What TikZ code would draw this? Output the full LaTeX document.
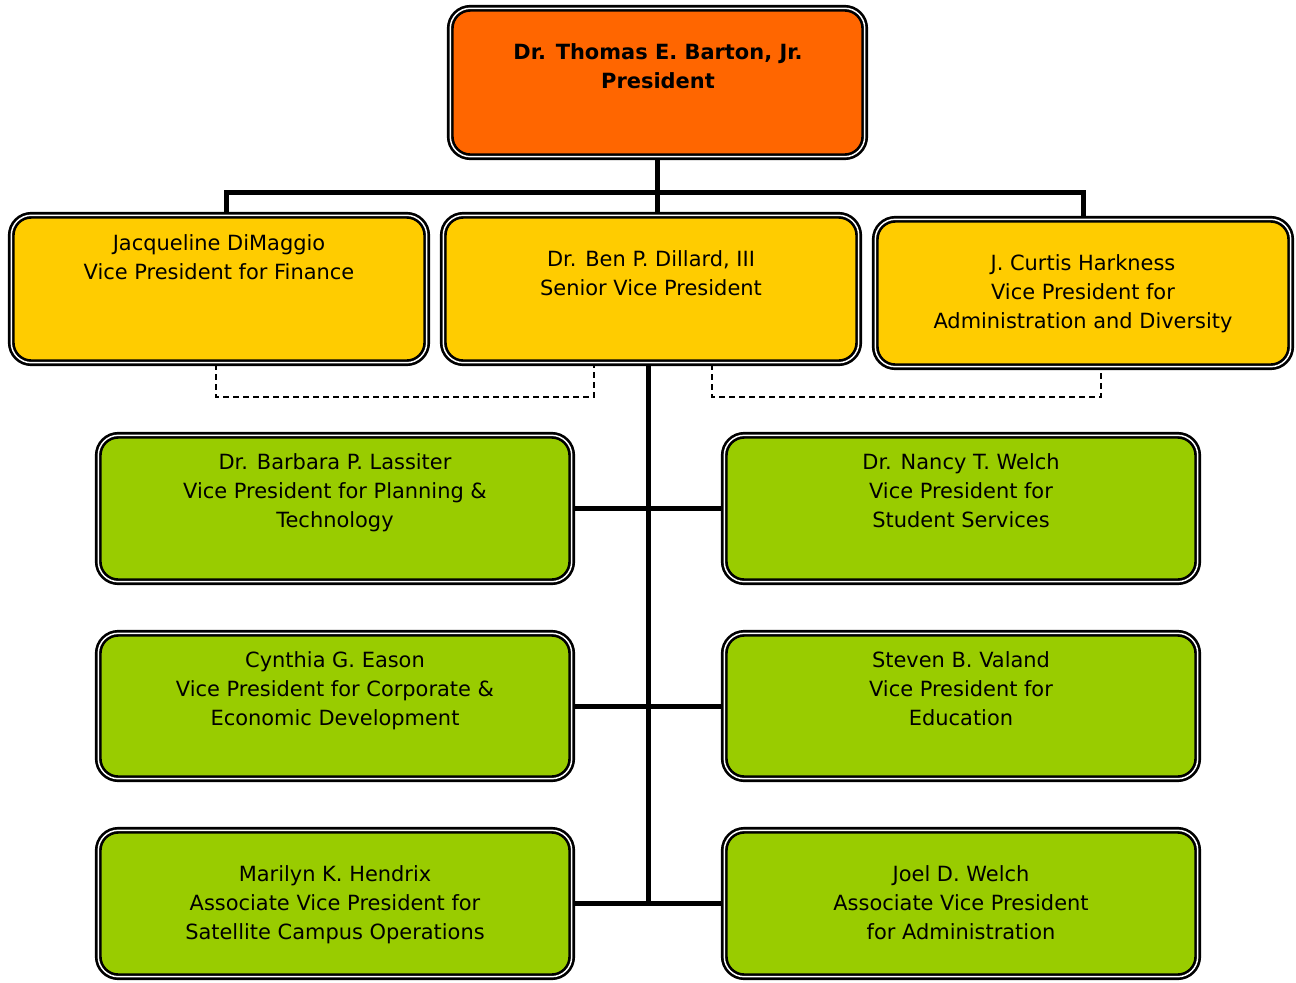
\documentclass[tikz,border=0pt]{standalone}
\usepackage{fontspec}
\setmainfont{DejaVu Sans}
\usetikzlibrary{fit,backgrounds}
\definecolor{presc}{HTML}{FF6600}
\definecolor{vpc}{HTML}{FFCC00}
\definecolor{grc}{HTML}{99CC00}
\newcommand\mylines[1]{\begin{tabular}[t]{@{}c@{}}#1\end{tabular}}
\begin{document}
\begin{tikzpicture}[x=0.75pt,y=-0.75pt,
  box/.style={draw=black, line width=2pt, double=white, double distance=1.1pt,
    rounded corners=15pt, inner sep=0pt},
  txt/.style={anchor=base, inner sep=0pt, font=\fontsize{15.7}{21.75}\selectfont},
  btxt/.style={anchor=base, inner sep=0pt, font=\fontsize{15.7}{21.75}\selectfont\bfseries},
  conn/.style={draw=black, line width=3.75pt, line join=miter},
  dsh/.style={draw=black, line width=1.1pt, dash pattern=on 4.5pt off 3pt}]
\useasboundingbox (0,0) rectangle (1296,982);

% boxes
\node[box, fill=presc, fit={(450.3,8.3)(864.7,156.7)}] (p) {};
\node[box, fill=vpc, fit={(11.3,215.3)(426.7,362.7)}] (dim) {};
\node[box, fill=vpc, fit={(443.3,215.3)(858.7,362.7)}] (dil) {};
\node[box, fill=vpc, fit={(875.3,219.3)(1290.7,366.7)}] (har) {};
\node[box, fill=grc, fit={(98.3,435.3)(571.7,581.7)}] (l1) {};
\node[box, fill=grc, fit={(724.3,435.3)(1197.7,581.7)}] (r1) {};
\node[box, fill=grc, fit={(98.3,633.3)(571.7,778.7)}] (l2) {};
\node[box, fill=grc, fit={(724.3,633.3)(1197.7,778.7)}] (r2) {};
\node[box, fill=grc, fit={(98.3,830.3)(571.7,976.7)}] (l3) {};
\node[box, fill=grc, fit={(724.3,830.3)(1197.7,976.7)}] (r3) {};

% texts
\node[btxt] (p-t) at (658,59) {\mylines{Dr. Thomas E. Barton, Jr.\\President}};
\node[txt] (dim-t) at (219,250) {\mylines{Jacqueline DiMaggio\\Vice President for Finance}};
\node[txt] (dil-t) at (651,266) {\mylines{Dr. Ben P. Dillard, III\\Senior Vice President}};
\node[txt] (har-t) at (1083,270) {\mylines{J. Curtis Harkness\\Vice President for\\Administration and Diversity}};
\node[txt] (l1-t) at (335,469) {\mylines{Dr. Barbara P. Lassiter\\Vice President for Planning \&\\Technology}};
\node[txt] (r1-t) at (961,469) {\mylines{Dr. Nancy T. Welch\\Vice President for\\Student Services}};
\node[txt] (l2-t) at (335,667) {\mylines{Cynthia G. Eason\\Vice President for Corporate \&\\Economic Development}};
\node[txt] (r2-t) at (961,667) {\mylines{Steven B. Valand\\Vice President for\\Education}};
\node[txt] (l3-t) at (335,881) {\mylines{Marilyn K. Hendrix\\Associate Vice President for\\Satellite Campus Operations}};
\node[txt] (r3-t) at (961,881) {\mylines{Joel D. Welch\\Associate Vice President\\for Administration}};

% connectors
\coordinate (bL) at (226,192);
\coordinate (bR) at (1083,192);
\coordinate (tb) at (648,905);
\coordinate (d1a) at (216,397);
\coordinate (d1b) at (594,397);
\coordinate (d2a) at (712,397);
\coordinate (d2b) at (1101,397);
\begin{scope}[on background layer]
\draw[conn] (p.south) -- (p.south |- bL);
\draw[conn] (bL |- dim.north) -- (bL) -- (bR) -- (bR |- har.north);
\draw[conn] (p.south |- dil.north) -- (p.south |- bL);
\draw[conn] (tb |- dil.south) -- (tb);
\draw[conn] (l1.east) -- (r1.west);
\draw[conn] (l2.east) -- (r2.west);
\draw[conn] (l3.east) -- (r3.west);
\draw[dsh] (d1a |- dim.south) -- (d1a) -- (d1b) -- (d1b |- dil.south);
\draw[dsh] (d2a |- dil.south) -- (d2a) -- (d2b) -- (d2b |- har.south);
\end{scope}
\end{tikzpicture}
\end{document}
